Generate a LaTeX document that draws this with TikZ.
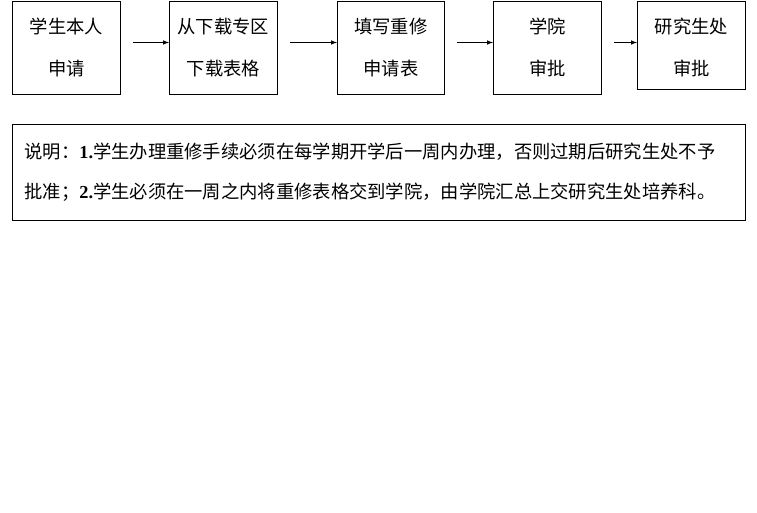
\documentclass[tikz,border=0pt]{standalone}
\usepackage{fontspec}
\setmainfont{Liberation Serif}
\newfontfamily\cjk{Noto Sans CJK SC}
\begin{document}
\begin{tikzpicture}[x=1pt,y=-1pt,
 bx/.style={draw,line width=0.8pt,minimum width=108pt,anchor=north west,inner sep=0pt},
 tx/.style={font=\cjk\fontsize{18.3}{20}\selectfont},
 ar/.style={-latex,line width=1pt}]
\useasboundingbox (0,0) rectangle (757,512);
\node[bx,minimum height=93pt] (b1) at (12,0.5) {};
\node[bx,minimum height=93pt,minimum width=108pt] (b2) at (169,0.5) {};
\node[bx,minimum height=93pt,minimum width=107pt] (b3) at (337,0.5) {};
\node[bx,minimum height=93pt] (b4) at (493,0.5) {};
\node[bx,minimum height=88pt] (b5) at (637,0.5) {};
\foreach \b/\a/\c in {b1/学生本人/申请,b2/从下载专区/下载表格,b3/填写重修/申请表,b4/学院/审批,b5/研究生处/审批}{
 \node[tx] at ([yshift=-26]\b.north) {\a};
 \node[tx] at ([yshift=-68]\b.north) {\c};}
\foreach \p/\q in {b1/b2,b2/b3,b3/b4,b4/b5}{
 \draw[ar] ([xshift=12,yshift=-42]\p.north east) -- ([yshift=-42]\q.north west);}
\node[draw,line width=0.8pt,anchor=north west,minimum width=733pt,minimum height=96pt] (n) at (12,124) {};
\node[tx,anchor=west] at (21,152) {说明：{\rmfamily\bfseries 1.}学生办理重修手续必须在每学期开学后一周内办理，否则过期后研究生处不予};
\node[tx,anchor=west] at (21,192) {批准；{\rmfamily\bfseries 2.}学生必须在一周之内将重修表格交到学院，由学院汇总上交研究生处培养科。};
\end{tikzpicture}
\end{document}
